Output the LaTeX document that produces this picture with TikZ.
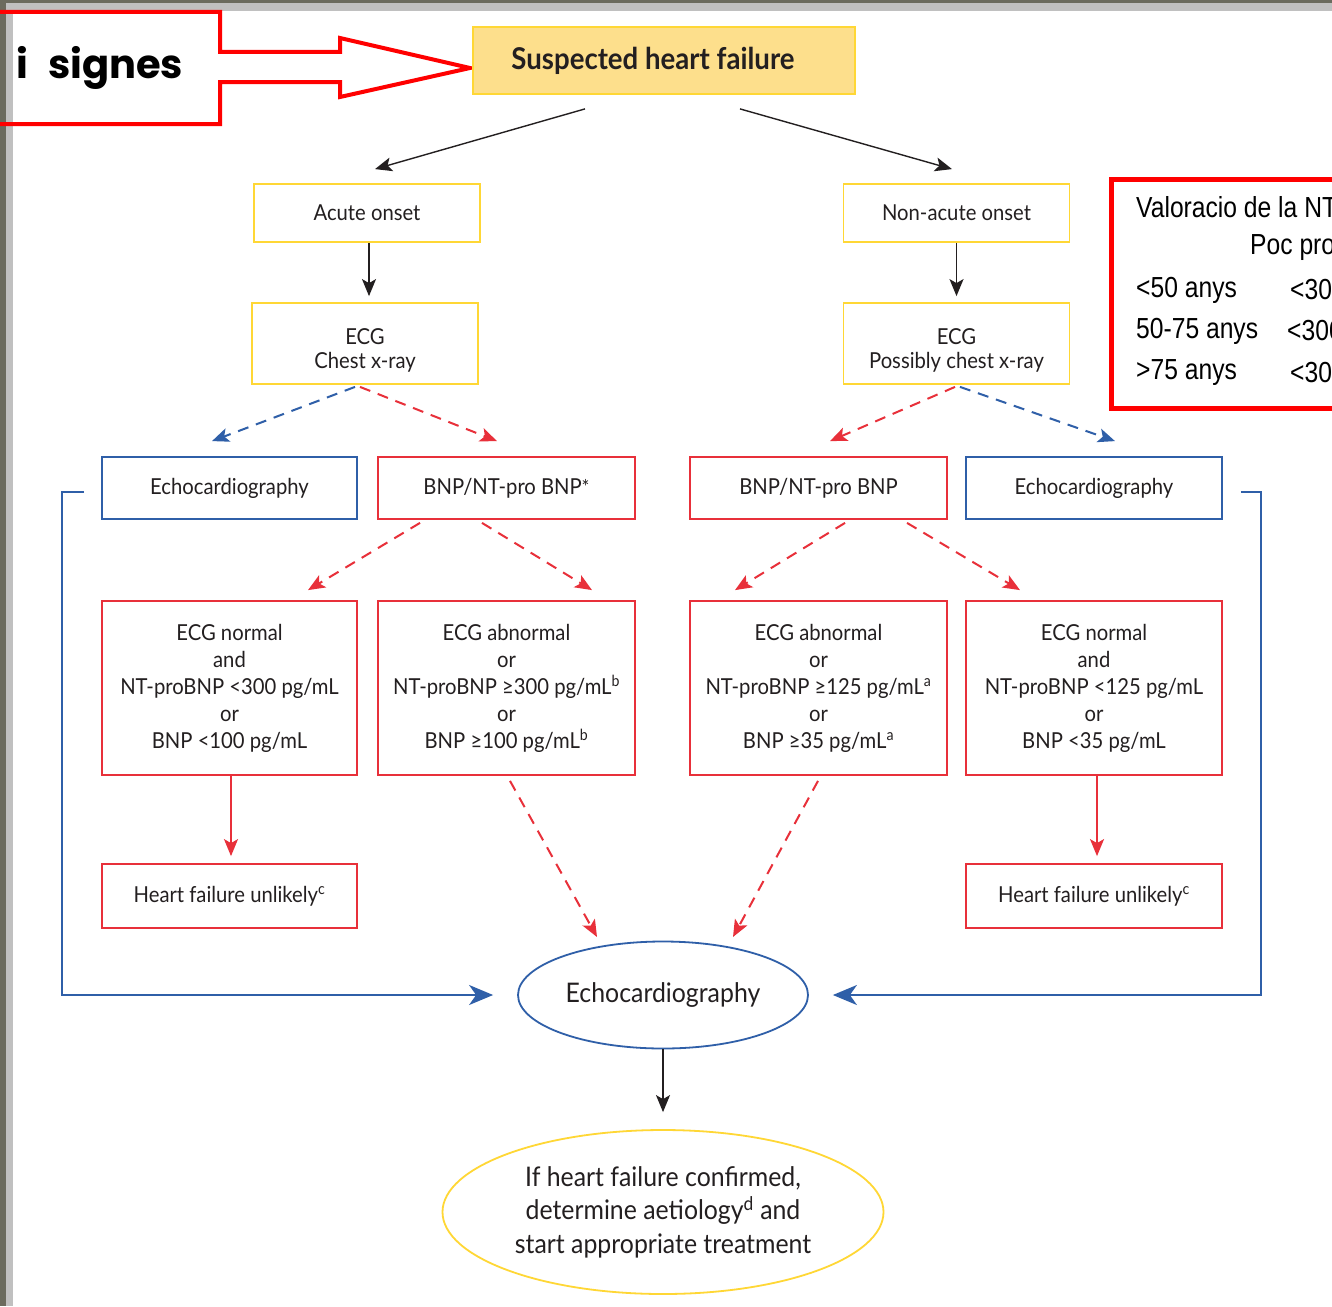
\documentclass[tikz,border=0pt]{standalone}
\usepackage{fontspec}
\setmainfont{Lato}[FakeStretch=0.92]
\newfontfamily\comicfont{Poppins}
\newfontfamily\arialn{Liberation Sans}[FakeStretch=0.85]
\usetikzlibrary{arrows.meta,calc,shapes.geometric}
\definecolor{hfred}{HTML}{E8303A}
\definecolor{hfblue}{HTML}{2F5FA8}
\definecolor{hfyel}{HTML}{FFD735}
\definecolor{hffill}{HTML}{FDDF8C}
\definecolor{hftext}{HTML}{231F20}
\definecolor{frdark}{HTML}{6B6B5E}
\definecolor{frgray}{HTML}{C0C0C0}
\definecolor{callred}{HTML}{FF0000}
\tikzset{
  base/.style={align=center, text=hftext, inner sep=0pt, font=\fontsize{22}{27}\selectfont},
  ybox/.style={base, draw=hfyel, line width=1.8pt, fill=white, minimum width=226pt},
  rbox/.style={base, draw=hfred, line width=1.8pt, minimum width=256pt},
  bbox/.style={base, draw=hfblue, line width=1.8pt, minimum width=256pt},
  tip/.style={-{Stealth[length=17pt,width=14pt,inset=4pt]}},
  blkarr/.style={tip, draw=hftext, line width=1.4pt},
  rdash/.style={tip, draw=hfred, line width=2pt, dash pattern=on 11pt off 8pt},
  bdash/.style={tip, draw=hfblue, line width=2pt, dash pattern=on 11pt off 8pt},
  rsolid/.style={tip, draw=hfred, line width=1.8pt},
  bline/.style={draw=hfblue, line width=1.8pt},
  btip/.style={-{Stealth[length=24pt,width=20pt,inset=7pt]}},
  calltext/.style={anchor=west, inner sep=0pt, text=black, font=\arialn\fontsize{29}{32}\selectfont}
}
\begin{document}
\begin{tikzpicture}[x=1pt,y=-1pt]
\useasboundingbox (0,0) rectangle (1332,1306);
\clip (0,0) rectangle (1332,1306);
\fill[white] (0,0) rectangle (1332,1306);
% screenshot frame
\fill[frgray] (0,0) rectangle (1332,11);
\fill[frgray] (0,0) rectangle (13,1306);
\fill[frdark] (0,0) rectangle (1332,3);
\fill[frdark] (0,0) rectangle (6,1306);

% callout arrow "i signes"
\draw[callred, line width=4pt, line join=miter]
  (-10,12) -- (220,12) -- (220,52) -- (340,52) -- (340,38) -- (470,68)
  -- (340,97) -- (340,82) -- (220,82) -- (220,124) -- (-10,124);
\node[anchor=base west, inner sep=0pt, font=\comicfont\bfseries\fontsize{40}{44}\selectfont] (isig) at (16,78) {i\hspace{20pt}signes};

% top-right callout box (clipped by the picture edge)
\draw[callred, line width=5pt] (1111,179) rectangle (1360,408);
\node[calltext] (v1) at (1136,207) {Valoracio de la NT};
\node[calltext] (v2) at (1250,248) {Poc pro};
\node[calltext] (v3) at (1136,290) {<50 anys};
\node[calltext] (v4) at (1290,290) {<30};
\node[calltext] (v5) at (1136,331) {50-75 anys};
\node[calltext] (v6) at (1287,331) {<300};
\node[calltext] (v7) at (1136,373) {>75 anys};
\node[calltext] (v8) at (1290,373) {<30};

% nodes
\node[base, draw=hfyel, fill=hffill, line width=1.8pt, minimum width=382pt, minimum height=67pt,
      font=\bfseries\fontsize{30}{32}\selectfont] (shf) at (664,60.5) {Suspected heart failure\hspace*{22pt}};
\node[ybox, minimum height=58pt] (acute) at (367,213) {Acute onset};
\node[ybox, minimum height=58pt] (nonacute) at (956.5,213) {Non-acute onset};
\node[ybox, minimum height=81pt, font=\fontsize{22}{24}\selectfont] (ecgl) at (365,343.5) {\rule{0pt}{10pt}\\[-4pt]ECG\\Chest x-ray};
\node[ybox, minimum height=81pt, font=\fontsize{22}{24}\selectfont] (ecgr) at (956.5,343.5) {\rule{0pt}{10pt}\\[-4pt]ECG\\Possibly chest x-ray};

\node[bbox, minimum height=62pt, minimum width=255pt] (echol) at (229.5,488) {Echocardiography};
\node[rbox, minimum height=62pt, minimum width=257pt] (bnpl) at (506.5,488) {BNP/NT-pro BNP{\fontsize{20}{20}\selectfont *}};
\node[rbox, minimum height=62pt, minimum width=257pt] (bnpr) at (818.5,488) {BNP/NT-pro BNP};
\node[bbox, minimum height=62pt] (echor) at (1094,488) {Echocardiography};

\node[rbox, minimum height=174pt, minimum width=255pt] (resl1) at (229.5,688)
  {ECG normal\\and\\NT-proBNP <300 pg/mL\\or\\BNP <100 pg/mL};
\node[rbox, minimum height=174pt, minimum width=257pt] (resl2) at (506.5,688)
  {ECG abnormal\\or\\NT-proBNP ≥300 pg/mL\textsuperscript{b}\\or\\BNP ≥100 pg/mL\textsuperscript{b}};
\node[rbox, minimum height=174pt, minimum width=257pt] (resr1) at (818.5,688)
  {ECG abnormal\\or\\NT-proBNP ≥125 pg/mL\textsuperscript{a}\\or\\BNP ≥35 pg/mL\textsuperscript{a}};
\node[rbox, minimum height=174pt] (resr2) at (1094,688)
  {ECG normal\\and\\NT-proBNP <125 pg/mL\\or\\BNP <35 pg/mL};

\node[rbox, minimum height=64pt, minimum width=255pt] (hful) at (229.5,896) {Heart failure unlikely\textsuperscript{c}};
\node[rbox, minimum height=64pt] (hfur) at (1094,896) {Heart failure unlikely\textsuperscript{c}};

\node[base, ellipse, draw=hfblue, line width=1.8pt, minimum width=290pt, minimum height=107pt,
      font=\fontsize{27}{30}\selectfont] (echo) at (663,995) {Echocardiography};
\node[base, ellipse, draw=hfyel, line width=1.8pt, minimum width=441pt, minimum height=164pt,
      font=\fontsize{27}{33.5}\selectfont] (final) at (663,1212)
  {If heart failure confirmed,\\determine aetiology\textsuperscript{d} and\\start appropriate treatment};

% connectors
\draw[blkarr] ($(shf.south)+(-79,14)$) -- ($(acute.north)+(8,-14)$);
\draw[blkarr] ($(shf.south)+(76,14)$) -- ($(nonacute.north)+(-4.5,-14)$);
\draw[blkarr, shorten >=6pt] ($(acute.south)+(2,0)$) -- ($(ecgl.north)+(4,0)$);
\draw[blkarr, shorten >=6pt] (nonacute.south) -- (ecgr.north);

\draw[bdash] ($(ecgl.south)+(-10,2)$) -- ($(echol.north)+(-17.5,-15)$);
\draw[rdash] ($(ecgl.south)+(-5,2)$) -- ($(bnpl.north)+(-9.5,-15)$);
\draw[rdash] ($(ecgr.south)+(-1.5,2)$) -- ($(bnpr.north)+(11.5,-15)$);
\draw[bdash] ($(ecgr.south)+(3.5,2)$) -- ($(echor.north)+(21,-15)$);

\draw[rdash] ($(bnpl.south)+(-86.5,3)$) -- ($(resl1.north)+(78.5,-10)$);
\draw[rdash] ($(bnpl.south)+(-24.5,3)$) -- ($(resl2.north)+(85.5,-10)$);
\draw[rdash] ($(bnpr.south)+(26.5,3)$) -- ($(resr1.north)+(-83.5,-10)$);
\draw[rdash] ($(bnpr.south)+(88.5,3)$) -- ($(resr2.north)+(-74,-10)$);

\draw[rsolid, shorten >=7pt] ($(resl1.south)+(1.5,0)$) -- ($(hful.north)+(1.5,0)$);
\draw[rsolid, shorten >=7pt] ($(resr2.south)+(3,0)$) -- ($(hfur.north)+(3,0)$);

\draw[rdash] ($(resl2.south)+(3.5,5)$) -- ($(echo.center)+(-66,-58)$);
\draw[rdash] ($(resr1.south)+(-0.5,5)$) -- ($(echo.center)+(70,-58)$);

\draw[bline, btip] ($(echol.west)+(-17,4)$) -- ++(-22,0) |- ($(echo.west)+(-24,0)$);
\draw[bline, btip] ($(echor.east)+(18,4)$) -- ++(20,0) |- ($(echo.east)+(24,0)$);

\draw[blkarr, shorten >=17pt] (echo.south) -- (final.north);
\end{tikzpicture}
\end{document}
